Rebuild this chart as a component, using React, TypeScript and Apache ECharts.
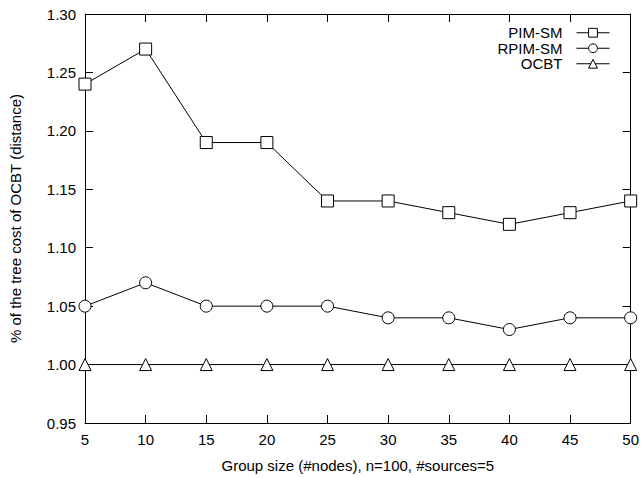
import React, { useEffect, useRef } from "react";
import * as echarts from "echarts";

const groupSizes = [5, 10, 15, 20, 25, 30, 35, 40, 45, 50];
const pimSm = [1.24, 1.27, 1.19, 1.19, 1.14, 1.14, 1.13, 1.12, 1.13, 1.14];
const rpimSm = [1.05, 1.07, 1.05, 1.05, 1.05, 1.04, 1.04, 1.03, 1.04, 1.04];
const ocbt = [1.0, 1.0, 1.0, 1.0, 1.0, 1.0, 1.0, 1.0, 1.0, 1.0];
const seriesNames = ["PIM-SM", "RPIM-SM", "OCBT"];

const FONT = "Liberation Sans, Arial, sans-serif";
const FS = 15;

export default function App() {
  const ref = useRef<HTMLDivElement>(null);
  useEffect(() => {
    if (!ref.current) return;
    const chart = echarts.init(ref.current, undefined, { renderer: "svg" });
    const toPairs = (ys: number[]) => groupSizes.map((x, i) => [x, ys[i]]);
    const axisLine = { show: true, lineStyle: { color: "#000", width: 1 } };
    const mkSeries = (name: string, data: number[], symbol: string, size: number) => ({
      name,
      type: "line",
      data: toPairs(data),
      symbol,
      symbolSize: size,
      showAllSymbol: true,
      lineStyle: { color: "#000", width: 1 },
      itemStyle: { color: "#fff", borderColor: "#000", borderWidth: 1 },
    });
    chart.setOption({
      animation: false,
      backgroundColor: "#fff",
      textStyle: { fontFamily: FONT },
      grid: { left: 79, top: 14, right: 9, bottom: 54, show: false },
      legend: {
        right: 27,
        top: 20,
        orient: "vertical",
        align: "right",
        itemGap: 0,
        itemWidth: 33,
        itemHeight: 11,
        data: seriesNames,
        lineStyle: { width: 1, color: "#000" },
        itemStyle: { color: "#fff", borderColor: "#000", borderWidth: 1 },
        textStyle: { color: "#000", fontSize: FS, fontFamily: FONT, padding: [0, 9, 0, 0], lineHeight: 15.5 },
      },
      xAxis: [
        {
          type: "value",
          min: 5,
          max: 50,
          interval: 5,
          name: "Group size (#nodes), n=100, #sources=5",
          nameLocation: "middle",
          nameGap: 35,
          nameTextStyle: { color: "#000", fontSize: FS, fontFamily: FONT },
          axisLine,
          axisTick: { show: true, inside: true, length: 8, lineStyle: { color: "#000" } },
          axisLabel: { color: "#000", fontSize: FS, fontFamily: FONT, margin: 9 },
          splitLine: { show: false },
        },
        {
          type: "value",
          min: 5,
          max: 50,
          interval: 5,
          position: "top",
          axisLine,
          axisTick: { show: true, inside: true, length: 8, lineStyle: { color: "#000" } },
          axisLabel: { show: false },
          splitLine: { show: false },
        },
      ],
      yAxis: [
        {
          type: "value",
          min: 0.95,
          max: 1.3,
          interval: 0.05,
          name: "% of the tree cost of OCBT (distance)",
          nameLocation: "middle",
          nameGap: 62,
          nameTextStyle: { color: "#000", fontSize: FS, fontFamily: FONT },
          axisLine,
          axisTick: { show: true, inside: true, length: 8, lineStyle: { color: "#000" } },
          axisLabel: {
            color: "#000",
            fontSize: FS,
            fontFamily: FONT,
            margin: 9,
            formatter: (v: number) => v.toFixed(2),
          },
          splitLine: { show: false },
        },
        {
          type: "value",
          min: 0.95,
          max: 1.3,
          interval: 0.05,
          position: "right",
          axisLine,
          axisTick: { show: true, inside: true, length: 8, lineStyle: { color: "#000" } },
          axisLabel: { show: false },
          splitLine: { show: false },
        },
      ],
      series: [
        mkSeries(seriesNames[0], pimSm, "rect", 12),
        mkSeries(seriesNames[1], rpimSm, "circle", 12),
        mkSeries(seriesNames[2], ocbt, "triangle", 12),
      ],
    });
    return () => chart.dispose();
  }, []);
  return <div ref={ref} style={{ width: 642, height: 478, position: "absolute", left: 0, top: 0 }} />;
}
